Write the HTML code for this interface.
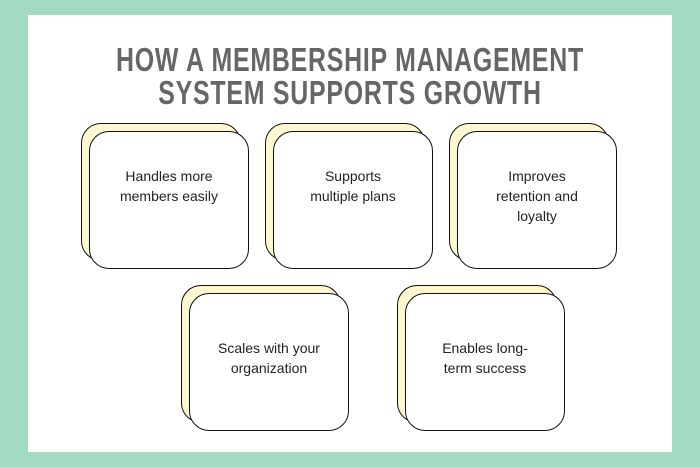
<!DOCTYPE html>
<html><head><style>
body{margin:0;width:700px;height:467px;background:#a3dbc2;position:relative;overflow:hidden;font-family:"Liberation Sans",sans-serif}
.panel{position:absolute;left:28px;top:15px;width:644px;height:437px;background:#fff}
.t{position:absolute;left:0;width:700px;text-align:center;color:#666;font-weight:bold;font-size:33px;letter-spacing:1px;line-height:33px;transform:scaleX(0.755);}
.b,.f{position:absolute;width:160px;height:138px;border:1.5px solid #111;border-radius:20px;box-sizing:border-box}
.b{background:#fdf7cf}
.f{background:#fff;text-align:center;font-size:14px;line-height:20px;color:#222;padding:34px 12px 0}
</style></head><body>
<div class="panel"></div>
<div class="t" style="top:43px">HOW A MEMBERSHIP MANAGEMENT</div>
<div class="t" style="top:76px">SYSTEM SUPPORTS GROWTH</div>

<div class="b" style="left:81px;top:123px"></div>
<div class="f" style="left:89px;top:131px">Handles more members easily</div>
<div class="b" style="left:265px;top:123px"></div>
<div class="f" style="left:273px;top:131px;padding-left:30px;padding-right:30px">Supports multiple plans</div>
<div class="b" style="left:449px;top:123px"></div>
<div class="f" style="left:457px;top:131px;padding-left:26px;padding-right:26px">Improves retention and loyalty</div>
<div class="b" style="left:181px;top:285px"></div>
<div class="f" style="left:189px;top:293px;padding-top:44px">Scales with your organization</div>
<div class="b" style="left:397px;top:285px"></div>
<div class="f" style="left:405px;top:293px;padding-top:44px;padding-left:30px;padding-right:30px">Enables long-term success</div>
</body></html>
